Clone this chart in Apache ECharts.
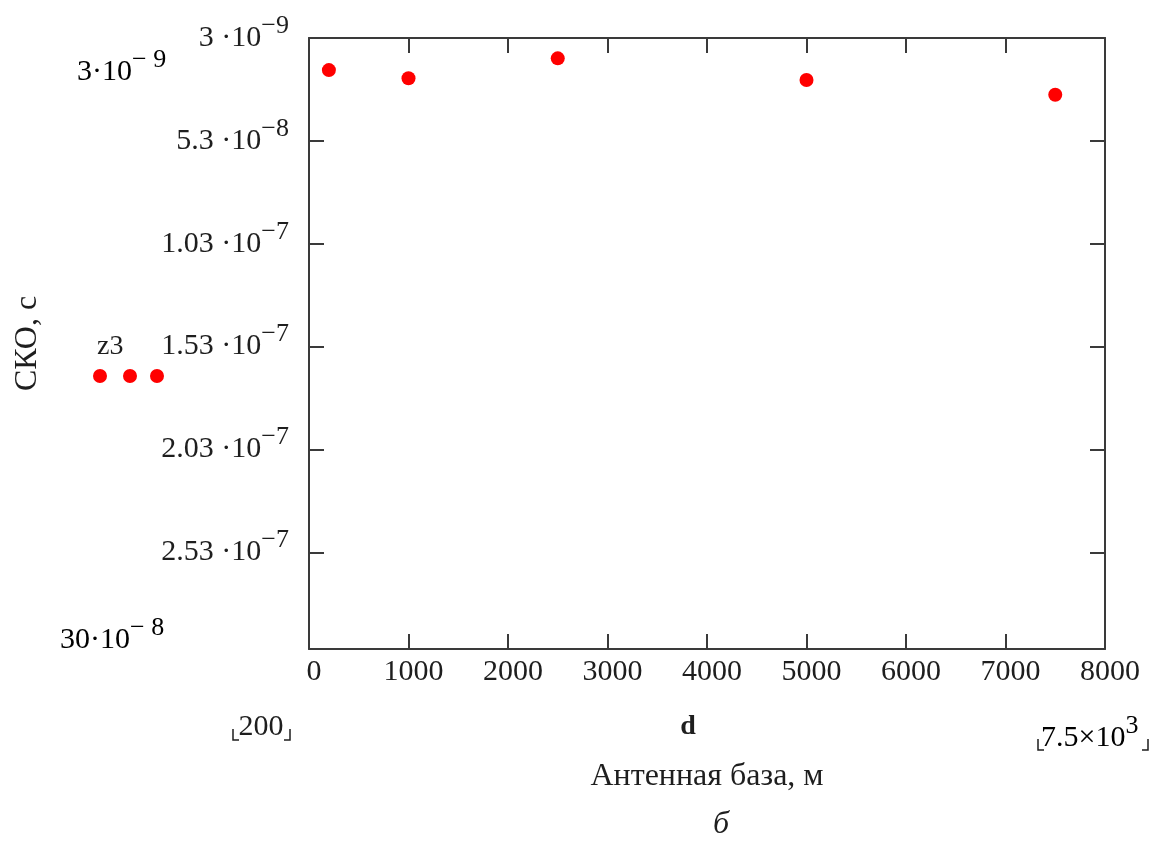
<!DOCTYPE html>
<html>
<head>
<meta charset="utf-8">
<script src="https://cdn.jsdelivr.net/npm/echarts@6/dist/echarts.min.js"></script>
<style>
html,body{margin:0;padding:0;background:#fff;}
#chart{width:1160px;height:841px;}
</style>
</head>
<body>
<div id="chart"></div>
<script>
// ---- data ----
const seriesName = 'z3';
const dValues = [200, 1000, 2500, 5000, 7500];
const z3Values = [1.86e-8, 2.26e-8, 1.29e-8, 2.34e-8, 3.06e-8];
const yTickValues = [3e-9, 5.3e-8, 1.03e-7, 1.53e-7, 2.03e-7, 2.53e-7];
const yTickMantissa = ['3', '5.3', '1.03', '1.53', '2.03', '2.53'];
const yTickExponent = ['−9', '−8', '−7', '−7', '−7', '−7'];
const xTickValues = [0, 1000, 2000, 3000, 4000, 5000, 6000, 7000, 8000];
const yMin = 3e-9, yMax = 3e-7;
const xMin = 0, xMax = 8000;
const yAxisTitle = 'СКО, с';
const xAxisTitle = 'Антенная база, м';
const xVarLabel = 'd';
const xLowLimit = '200';
const xHighLimit = ['7.5×10', '3'];
const yTopLimit = ['3·10', '− 9'];
const yBottomLimit = ['30·10', '− 8'];
const captionText = 'б';

const FONT = 'Liberation Serif';
const TXT = '#1e1e1e';
const AX = '#3a3a3a';
const rich = {
  b: {fontFamily: FONT, fontSize: 30, color: TXT, lineHeight: 50, verticalAlign: 'middle'},
  s: {fontFamily: FONT, fontSize: 26, color: TXT, lineHeight: 26, verticalAlign: 'top'}
};

function yLabel(v) {
  let best = -1, bd = Infinity;
  yTickValues.forEach((t, i) => { const d = Math.abs(t - v); if (d < bd) { bd = d; best = i; } });
  if (best < 0 || bd > 1e-12) return '';
  return '{b|' + yTickMantissa[best] + ' ·10}{s|' + yTickExponent[best] + '}';
}

const chart = echarts.init(document.getElementById('chart'));
const axisLine = {show: true, onZero: false, lineStyle: {color: AX, width: 2}};
const tick = {show: true, inside: true, length: 15, lineStyle: {color: AX, width: 2}};

const option = {
  backgroundColor: '#fff',
  animation: false,
  grid: {left: 309, right: 55, top: 38, bottom: 192, containLabel: false, outerBoundsMode: 'none'},
  legend: {
    data: [seriesName], left: 93, top: 369, padding: 0,
    itemWidth: 71, itemHeight: 14, selectedMode: false,
    icon: 'path://M0,7A7,7,0,1,1,14,7A7,7,0,1,1,0,7Z M30,7A7,7,0,1,1,44,7A7,7,0,1,1,30,7Z M57,7A7,7,0,1,1,71,7A7,7,0,1,1,57,7Z',
    formatter: () => '',
    textStyle: {fontSize: 1}
  },
  xAxis: [
    {
      type: 'value', position: 'bottom', min: xMin, max: xMax, interval: 1000,
      axisLine: axisLine, axisTick: tick, splitLine: {show: false},
      axisLabel: {
        customValues: xTickValues,
        formatter: v => String(v),
        fontFamily: FONT, fontSize: 30, color: TXT, margin: 8, padding: [0, 0, 0, 10],
        showMinLabel: true, showMaxLabel: true
      },
      name: xAxisTitle, nameLocation: 'middle', nameGap: 112,
      nameTextStyle: {fontFamily: FONT, fontSize: 32, color: TXT}
    },
    {
      type: 'value', position: 'top', min: xMin, max: xMax, interval: 1000,
      axisLine: axisLine, axisTick: tick, splitLine: {show: false},
      axisLabel: {show: false}
    }
  ],
  yAxis: [
    {
      type: 'value', position: 'left', inverse: true, min: yMin, max: yMax,
      axisLine: axisLine,
      axisTick: Object.assign({customValues: yTickValues}, tick),
      splitLine: {show: false},
      axisLabel: {
        customValues: yTickValues, margin: 20,
        formatter: yLabel, rich: rich
      },
      name: yAxisTitle, nameLocation: 'middle', nameGap: 265, nameRotate: 90,
      nameTextStyle: {fontFamily: FONT, fontSize: 32, color: TXT}
    },
    {
      type: 'value', position: 'right', inverse: true, min: yMin, max: yMax,
      axisLine: axisLine,
      axisTick: Object.assign({customValues: yTickValues}, tick),
      splitLine: {show: false},
      axisLabel: {show: false}
    }
  ],
  series: [{
    name: seriesName, type: 'scatter', xAxisIndex: 0, yAxisIndex: 0,
    symbol: 'circle', symbolSize: 14,
    itemStyle: {color: '#ff0000', opacity: 1},
    data: dValues.map((d, i) => [d, z3Values[i]])
  }],
  graphic: [
    {type: 'text', left: 97, top: 333, style: {text: seriesName, fontFamily: FONT, fontSize: 28, fill: TXT}},
    {type: 'text', x: 77, y: 72, style: {text: '{b|' + yTopLimit[0] + '}{s|' + yTopLimit[1] + '}', rich: rich, verticalAlign: 'middle'}},
    {type: 'text', x: 60, y: 640, style: {text: '{b|' + yBottomLimit[0] + '}{s|' + yBottomLimit[1] + '}', rich: rich, verticalAlign: 'middle'}},
    {type: 'text', x: 688, y: 727, style: {text: xVarLabel, fontFamily: FONT, fontSize: 28, fontWeight: 'bold', fill: TXT, align: 'center', verticalAlign: 'middle'}},
    {type: 'text', x: 261, y: 727, style: {text: xLowLimit, fontFamily: FONT, fontSize: 30, fill: TXT, align: 'center', verticalAlign: 'middle'}},
    {type: 'polyline', shape: {points: [[233, 729], [233, 740], [239, 740]]}, style: {stroke: TXT, lineWidth: 1.5, fill: null}},
    {type: 'polyline', shape: {points: [[290, 729], [290, 740], [284, 740]]}, style: {stroke: TXT, lineWidth: 1.5, fill: null}},
    {type: 'text', x: 1041, y: 738, style: {text: '{b|' + xHighLimit[0] + '}{s|' + xHighLimit[1] + '}', rich: rich, verticalAlign: 'middle'}},
    {type: 'polyline', shape: {points: [[1038, 739], [1038, 750], [1044, 750]]}, style: {stroke: TXT, lineWidth: 1.5, fill: null}},
    {type: 'polyline', shape: {points: [[1148, 739], [1148, 750], [1142, 750]]}, style: {stroke: TXT, lineWidth: 1.5, fill: null}},
    {type: 'text', x: 721, y: 825, style: {text: captionText, fontFamily: FONT, fontSize: 32, fontStyle: 'italic', fill: TXT, align: 'center', verticalAlign: 'middle'}}
  ]
};
chart.setOption(option);
</script>
</body>
</html>
